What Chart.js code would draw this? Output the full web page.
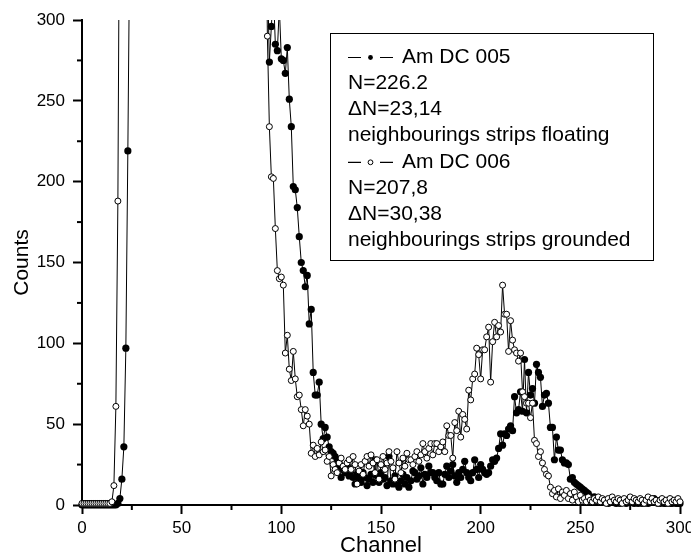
<!DOCTYPE html>
<html>
<head>
<meta charset="utf-8">
<script src="https://cdn.jsdelivr.net/npm/chart.js@4.4.1/dist/chart.umd.min.js"></script>
<style>
  html, body { margin: 0; padding: 0; background: #fff; }
  #wrap { width: 691px; height: 559px; }
</style>
</head>
<body>
<div id="wrap"><canvas id="spectrum"></canvas></div>
<script>
// Canal de départ (les comptes sont donnés canal par canal, pas de 1)
const firstChannel = 0;

// Am DC 005 - points pleins. null = hors échelle (pic de bruit au-dessus de 300)
const countsDC005 = [
  0, 0, 0, 0, 0, 0, 0, 0, 0, 0,            // 0-9
  0, 0, 0, 0, 0, 0, 0, 0, 1, 4,            // 10-19
  16, 36, 97, 219, 360, null, null, null, null, null, // 20-29
  null, null, null, null, null, null, null, null, null, null,
  null, null, null, null, null, null, null, null, null, null,
  null, null, null, null, null, null, null, null, null, null,
  null, null, null, null, null, null, null, null, null, null,
  null, null, null, null, null, null, null, null, null, null,
  null, null, null, null, null, null, null, null, null, null, // 80-89
  null, null, null, 330, 274, 296, 318, 285, 281, 308,       // 90-99
  276, 275, 267, 283, 251, 234, 197, 195, 184, 166,          // 100-109
  150, 145, 135, 142, 112, 121, 82, 68, 68, 76,              // 110-119
  50, 41, 48, 42, 36, 33, 32, 30, 27, 24,                    // 120-129
  17, 22, 20, 24, 18, 21, 17, 13, 19, 16,                    // 130-139
  14, 20, 17, 12, 16, 19, 14, 28, 18, 14,                    // 140-149
  20, 16, 17, 12, 30, 15, 13, 18, 13, 11,                    // 150-159
  15, 19, 13, 17, 11, 15, 21, 20, 16, 18,                    // 160-169
  23, 13, 19, 17, 24, 20, 20, 17, 15, 20,                    // 170-179
  13, 13, 19, 24, 17, 21, 25, 18, 14, 20,                    // 180-189
  17, 22, 27, 20, 17, 15, 20, 28, 22, 17,                    // 190-199
  25, 22, 20, 19, 20, 24, 28, 27, 29, 35,                    // 200-209
  44, 37, 44, 43, 47, 49, 46, 67, 57, 59,                    // 210-219
  70, 58, 90, 57, 82, 68, 72, 63, 87, 82,                    // 220-229
  79, 61, 68, 69, 63, 48, 48, 28, 42, 34,                    // 230-239
  34, 28, 26, 26, 25, 16, 17, 14, 13, 12,                    // 240-249
  11, 10, 9, 8, 7, 5, 4, 5, 3, 4,                            // 250-259
  3, 2, 3, 2, 1, 2, 3, 2, 1, 2,                              // 260-269
  1, 2, 2, 1, 3, 4, 2, 1, 2, 1,                              // 270-279
  2, 1, 1, 2, 1, 2, 3, 4, 2, 1,                              // 280-289
  1, 2, 1, 1, 2, 1, 1, 2, 1, 1,                              // 290-299
  1                                                          // 300
];

// Am DC 006 - points vides
const countsDC006 = [
  1, 1, 1, 1, 1, 1, 1, 1, 1, 1,            // 0-9
  1, 1, 1, 1, 1, 2, 12, 61, 188, 430,      // 10-19
  null, null, null, null, null, null, null, null, null, null, // 20-29
  null, null, null, null, null, null, null, null, null, null,
  null, null, null, null, null, null, null, null, null, null,
  null, null, null, null, null, null, null, null, null, null,
  null, null, null, null, null, null, null, null, null, null,
  null, null, null, null, null, null, null, null, null, null,
  null, null, null, null, null, null, null, null, null, null, // 80-89
  null, null, 420, 290, 234, 203, 202, 171, 145, 140,        // 90-99
  141, 136, 94, 105, 84, 77, 95, 78, 67, 68,                 // 100-109
  59, 49, 59, 55, 50, 32, 37, 30, 35, 31,                    // 110-119
  39, 33, 34, 27, 30, 18, 25, 22, 20, 26,                    // 120-129
  29, 24, 22, 26, 28, 22, 30, 25, 13, 21,                    // 130-139
  25, 19, 27, 30, 24, 31, 26, 20, 28, 16,                    // 140-149
  25, 30, 22, 26, 33, 27, 23, 16, 33, 26,                    // 150-159
  20, 29, 24, 32, 28, 28, 25, 30, 33, 27,                    // 160-169
  31, 38, 33, 29, 35, 38, 31, 38, 38, 33,                    // 170-179
  36, 39, 33, 49, 43, 43, 29, 51, 46, 58,                    // 180-189
  42, 56, 53, 47, 71, 65, 78, 81, 97, 93,                    // 190-199
  78, 96, 96, 104, 110, 76, 101, 113, 104, 111,              // 200-209
  107, 136, 118, 118, 95, 114, 102, 96, 94, 89,              // 210-219
  94, 70, 67, 63, 63, 54, 63, 40, 38, 30,                    // 220-229
  33, 26, 22, 19, 18, 11, 7, 9, 5, 10,                       // 230-239
  4, 8, 6, 9, 4, 7, 3, 8, 5, 2,                              // 240-249
  6, 3, 4, 2, 5, 3, 2, 4, 3, 5,                              // 250-259
  2, 4, 3, 1, 4, 2, 5, 3, 2, 4,                              // 260-269
  3, 1, 4, 2, 3, 5, 2, 4, 3, 2,                              // 270-279
  4, 3, 1, 3, 5, 2, 4, 2, 3, 1,                              // 280-289
  3, 4, 2, 3, 1, 4, 2, 3, 2, 4,                              // 290-299
  2                                                          // 300
];

// Texte de la légende
const legendDC005 = ['Am DC 005', 'N=226.2', '\u0394N=23,14', 'neighbourings strips floating'];
const legendDC006 = ['Am DC 006', 'N=207,8', '\u0394N=30,38', 'neighbourings strips grounded'];

// Graduations
const minorTicks = [25, 75, 125, 175, 225, 275];

const FONT = "'Liberation Sans', Arial, sans-serif";

function toPoints(counts) {
  return counts.map((c, i) => ({ x: firstChannel + i, y: c }));
}

// petites graduations (tous les 25)
const minorTickPlugin = {
  id: 'minorTicks',
  afterDraw(chart) {
    const ctx = chart.ctx;
    const xs = chart.scales.x, ys = chart.scales.y;
    const area = chart.chartArea;
    ctx.save();
    ctx.strokeStyle = '#000';
    ctx.lineWidth = 2;
    minorTicks.forEach(v => {
      const px = xs.getPixelForValue(v);
      ctx.beginPath();
      ctx.moveTo(px, area.bottom);
      ctx.lineTo(px, area.bottom + 5);
      ctx.stroke();
      const py = ys.getPixelForValue(v);
      ctx.beginPath();
      ctx.moveTo(area.left, py);
      ctx.lineTo(area.left - 5, py);
      ctx.stroke();
    });
    ctx.restore();
  }
};

// légende en boîte avec les lignes de texte
const textLegendPlugin = {
  id: 'textLegend',
  afterDraw(chart) {
    const ctx = chart.ctx;
    const bx = 330.5, by = 33.5, bw = 323, bh = 227;
    const lineH = 26.2;
    const tx = 348;
    ctx.save();
    ctx.fillStyle = '#fff';
    ctx.fillRect(bx, by, bw, bh);
    ctx.strokeStyle = '#000';
    ctx.lineWidth = 1;
    ctx.strokeRect(bx, by, bw, bh);
    ctx.font = '21px ' + FONT;
    ctx.textBaseline = 'middle';
    ctx.fillStyle = '#000';

    const blocks = [
      { lines: legendDC005, filled: true },
      { lines: legendDC006, filled: false }
    ];
    let row = 0;
    blocks.forEach(b => {
      b.lines.forEach((txt, j) => {
        const cy = by + 23.5 + row * lineH;
        if (j === 0) {
          ctx.beginPath();
          ctx.lineWidth = 1.2;
          ctx.moveTo(tx, cy + 0.5); ctx.lineTo(tx + 13, cy + 0.5);
          ctx.moveTo(tx + 32, cy + 0.5); ctx.lineTo(tx + 45, cy + 0.5);
          ctx.stroke();
          ctx.beginPath();
          ctx.lineWidth = 1;
          ctx.arc(tx + 22.5, cy + 0.5, 2.4, 0, Math.PI * 2);
          if (b.filled) { ctx.fill(); } else { ctx.stroke(); }
          ctx.fillText(txt, tx + 54, cy);
        } else {
          ctx.fillText(txt, tx, cy);
        }
        row++;
      });
    });
    ctx.restore();
  }
};

const ctx = document.getElementById('spectrum');
new Chart(ctx, {
  type: 'scatter',
  data: {
    datasets: [
      {
        label: 'Am DC 005',
        data: toPoints(countsDC005),
        showLine: true,
        borderColor: '#000',
        borderWidth: 1,
        pointRadius: 3.6,
        pointBorderWidth: 0,
        pointBackgroundColor: '#000',
        pointBorderColor: '#000',
        clip: { left: 6, right: 6, top: 0, bottom: 6 },
        order: 2
      },
      {
        label: 'Am DC 006',
        data: toPoints(countsDC006),
        showLine: true,
        borderColor: '#000',
        borderWidth: 1,
        pointRadius: 3,
        pointBorderWidth: 1,
        pointBackgroundColor: '#fff',
        pointBorderColor: '#000',
        clip: { left: 6, right: 6, top: 0, bottom: 6 },
        order: 1
      }
    ]
  },
  options: {
    responsive: true,
    maintainAspectRatio: false,
    animation: false,
    layout: { padding: { top: 20, right: 11, left: 0, bottom: 0 } },
    plugins: {
      legend: { display: false },
      tooltip: { enabled: false }
    },
    scales: {
      x: {
        type: 'linear',
        min: 0,
        max: 300,
        ticks: {
          stepSize: 50,
          color: '#000',
          padding: 4,
          maxRotation: 0,
          font: { size: 17, family: FONT }
        },
        grid: {
          drawOnChartArea: false,
          tickLength: 9,
          tickWidth: 2,
          tickColor: '#000',
          color: '#000'
        },
        border: { display: true, color: '#000', width: 2 },
        title: {
          display: true,
          text: 'Channel',
          color: '#000',
          padding: { top: -2, bottom: 0 },
          font: { size: 22, family: FONT }
        },
        afterFit(scale) {
          scale.height = 54;
          scale.paddingRight = 0;
          scale.paddingLeft = 0;
        }
      },
      y: {
        type: 'linear',
        min: 0,
        max: 300,
        ticks: {
          stepSize: 50,
          color: '#000',
          padding: 8,
          font: { size: 17, family: FONT }
        },
        grid: {
          drawOnChartArea: false,
          tickLength: 9,
          tickWidth: 2,
          tickColor: '#000',
          color: '#000'
        },
        border: { display: true, color: '#000', width: 2 },
        title: {
          display: true,
          text: 'Counts',
          color: '#000',
          padding: { top: 10, bottom: 0 },
          font: { size: 21, family: FONT }
        },
        afterFit(scale) {
          scale.width = 82;
          scale.paddingTop = 0;
          scale.paddingBottom = 0;
        }
      }
    }
  },
  plugins: [minorTickPlugin, textLegendPlugin]
});
</script>
</body>
</html>
